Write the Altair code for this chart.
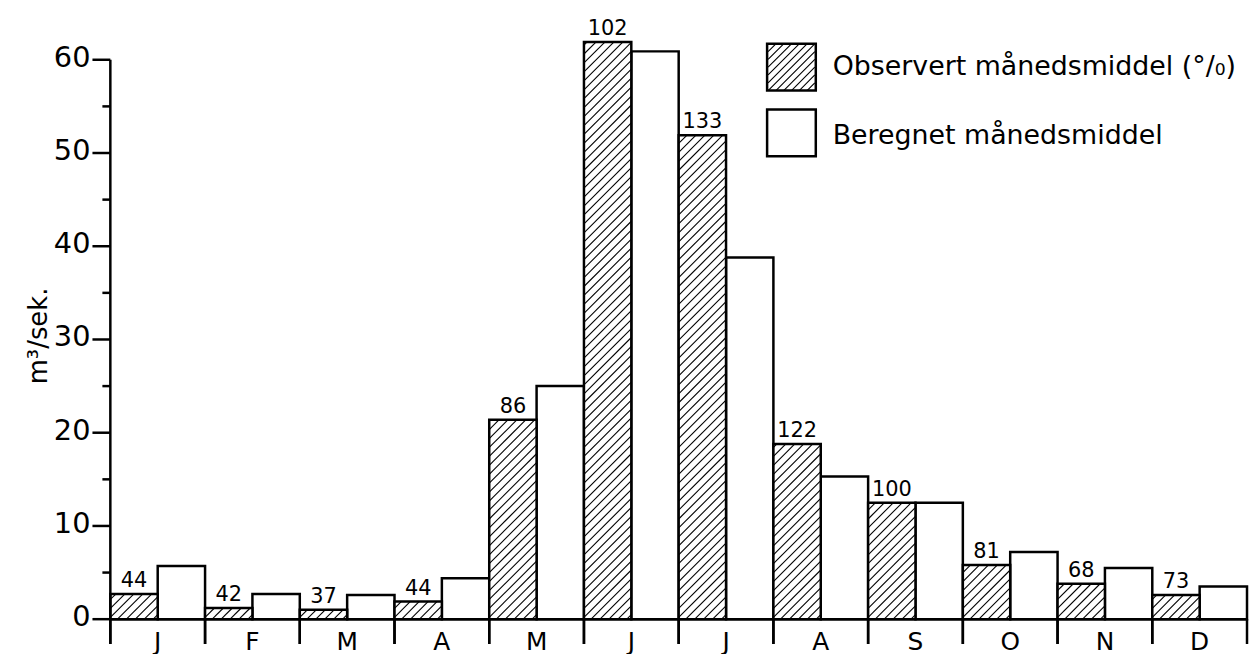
import altair as alt
import pandas as pd

# ---- data ----
months = ["J", "F", "M", "A", "M", "J", "J", "A", "S", "O", "N", "D"]
observed = [2.7, 1.2, 1.0, 1.9, 21.4, 61.9, 51.9, 18.8, 12.5, 5.8, 3.8, 2.6]
calculated = [5.7, 2.7, 2.6, 4.4, 25.0, 60.9, 38.8, 15.3, 12.5, 7.2, 5.5, 3.5]
percent = [44, 42, 37, 44, 86, 102, 133, 122, 100, 81, 68, 73]
major_ticks = [0, 10, 20, 30, 40, 50, 60]
minor_ticks = [5, 15, 25, 35, 45, 55]
series_labels = ["Observert månedsmiddel (°/₀)", "Beregnet månedsmiddel"]
y_title = "m³/sek."

# ---- layout / style ----
W, H = 1144, 638
Y0, Y1 = -2.66, 65.33
PX = W / len(months)
PY = H / (Y1 - Y0)
BAR_W = 0.5
SLOPE = 1.0            # hatch slope in pixels
K = SLOPE * PX / PY    # hatch slope in data units
S = 9.0 / PY           # vertical hatch spacing in data units
FONT = "DejaVu Sans"
LW = 2.5
LABEL_Y = -1.12

df = pd.DataFrame({"idx": range(len(months)), "month": months, "obs": observed,
                   "calc": calculated, "pct": percent})
hatch = df[["idx", "obs"]].merge(pd.DataFrame({"j": range(80)}), how="cross")

xs = alt.Scale(domain=[0, len(months)], nice=False, zero=False)
ys = alt.Scale(domain=[Y0, Y1], nice=False, zero=False)

base = alt.Chart(df).transform_calculate(
    xa="datum.idx", xb="datum.idx + 0.5", xc="datum.idx + 1", xm="datum.idx + 0.5",
    xl="datum.idx + 0.25", zero="0", bottom=f"{Y0}", ly=f"{LABEL_Y}"
)

calc_bars = base.mark_rect(fill="white", stroke="black", strokeWidth=LW).encode(
    x=alt.X("xb:Q", scale=xs, axis=None), x2="xc:Q",
    y=alt.Y("calc:Q", scale=ys, axis=None), y2="zero:Q",
)

obs_fill = base.mark_rect(fill="white", strokeWidth=0).encode(
    x=alt.X("xa:Q", scale=xs, axis=None), x2="xb:Q",
    y=alt.Y("obs:Q", scale=ys, axis=None), y2="zero:Q",
)

hatch_lines = alt.Chart(hatch).transform_calculate(
    c=f"-{BAR_W}*{K} + (datum.j + 0.5)*{S}"
).transform_filter("datum.c < datum.obs").transform_calculate(
    hx1=f"datum.idx + max(0, -datum.c)/{K}",
    hy1="max(datum.c, 0)",
    hx2=f"datum.idx + min({BAR_W}, (datum.obs - datum.c)/{K})",
    hy2=f"min(datum.c + {BAR_W}*{K}, datum.obs)",
).mark_rule(color="black", strokeWidth=1.1).encode(
    x=alt.X("hx1:Q", scale=xs, axis=None), x2="hx2:Q",
    y=alt.Y("hy1:Q", scale=ys, axis=None), y2="hy2:Q",
)

obs_outline = base.mark_rect(fill="transparent", stroke="black", strokeWidth=LW).encode(
    x=alt.X("xa:Q", scale=xs, axis=None), x2="xb:Q",
    y=alt.Y("obs:Q", scale=ys, axis=None), y2="zero:Q",
)

pct_text = base.mark_text(font=FONT, fontSize=21, color="black", align="center",
                          baseline="alphabetic", dy=-7).encode(
    x=alt.X("xl:Q", scale=xs, axis=None),
    y=alt.Y("obs:Q", scale=ys, axis=None),
    text="pct:N",
)

month_text = base.mark_text(font=FONT, fontSize=25, color="black", align="center",
                            baseline="top").encode(
    x=alt.X("xm:Q", scale=xs, axis=None),
    y=alt.Y("ly:Q", scale=ys, axis=None),
    text="month:N",
)

dividers_l = base.mark_rule(color="black", strokeWidth=LW).encode(
    x=alt.X("xa:Q", scale=xs, axis=None),
    y=alt.Y("bottom:Q", scale=ys, axis=None), y2="zero:Q")
dividers_r = base.mark_rule(color="black", strokeWidth=LW).encode(
    x=alt.X("xc:Q", scale=xs, axis=None),
    y=alt.Y("bottom:Q", scale=ys, axis=None), y2="zero:Q")

one = pd.DataFrame({"x0": [0], "n": [len(months)], "top": [max(major_ticks)],
                    "bottom": [Y0], "zero": [0], "title": [y_title]})
axis_line = alt.Chart(one).mark_rule(color="black", strokeWidth=LW).encode(
    x=alt.X("x0:Q", scale=xs, axis=None),
    y=alt.Y("top:Q", scale=ys, axis=None), y2="bottom:Q")
baseline = alt.Chart(one).mark_rule(color="black", strokeWidth=LW).encode(
    x=alt.X("x0:Q", scale=xs, axis=None), x2="n:Q",
    y=alt.Y("zero:Q", scale=ys, axis=None))

# manual y axis: minor ticks, major ticks, labels, title
minor = alt.Chart(pd.DataFrame({"v": minor_ticks})).mark_rule(
    color="black", strokeWidth=LW).encode(
    y=alt.Y("v:Q", scale=ys, axis=None), x=alt.value(-8), x2=alt.value(0))
major_df = pd.DataFrame({"v": major_ticks})
major = alt.Chart(major_df).mark_rule(color="black", strokeWidth=LW).encode(
    y=alt.Y("v:Q", scale=ys, axis=None), x=alt.value(-18), x2=alt.value(0))
major_lbl = alt.Chart(major_df).mark_text(
    font=FONT, fontSize=29, color="black", align="right", baseline="middle", dy=-2
).encode(y=alt.Y("v:Q", scale=ys, axis=None), x=alt.value(-20), text="v:Q")
y_title_mark = alt.Chart(one).mark_text(
    font=FONT, fontSize=26, color="black", align="center", baseline="middle", angle=270
).encode(x=alt.value(-72), y=alt.value(328), text="title:N")

# manual legend
leg = pd.DataFrame({"label": series_labels, "k": [0, 1]})
leg_boxes = alt.Chart(leg).transform_calculate(
    bx1="661", bx2="710", by1="34 + datum.k*66", by2="81 + datum.k*66"
).mark_rect(fill="white", stroke="black", strokeWidth=LW).encode(
    x=alt.X("bx1:Q", scale=None, axis=None), x2="bx2:Q",
    y=alt.Y("by1:Q", scale=None, axis=None), y2="by2:Q",
)
lines = []
for i in range(-5, 6):
    t = i / 3.0
    if t <= 0:
        lines.append(f"M-1,{t + 1:.3f}L{t + 1:.3f},-1")
    else:
        lines.append(f"M{t - 1:.3f},1L1,{t - 1:.3f}")
hatch_path = "".join(lines)
leg_hatch = alt.Chart(leg).transform_filter("datum.k == 0").mark_point(
    shape=hatch_path, size=47 * 47, filled=False, stroke="black", strokeWidth=1.1,
    opacity=1
).encode(x=alt.value(685.5), y=alt.value(57.5))
leg_text = alt.Chart(leg).transform_calculate(
    tx="727", ty="57 + datum.k*70"
).mark_text(font=FONT, fontSize=27, color="black", align="left", baseline="middle").encode(
    x=alt.X("tx:Q", scale=None, axis=None),
    y=alt.Y("ty:Q", scale=None, axis=None),
    text="label:N",
)

chart = alt.layer(
    calc_bars, obs_fill, hatch_lines, obs_outline, dividers_l, dividers_r,
    axis_line, baseline, minor, major, major_lbl, y_title_mark, pct_text, month_text,
    leg_boxes, leg_hatch, leg_text
).properties(
    width=W, height=H, background="white",
    autosize=alt.AutoSizeParams(type="none"),
    padding={"left": 103, "top": 0, "right": 2, "bottom": 10},
).configure_view(stroke=None)

chart.save("out.html", embed_options={"renderer": "svg", "actions": False})
